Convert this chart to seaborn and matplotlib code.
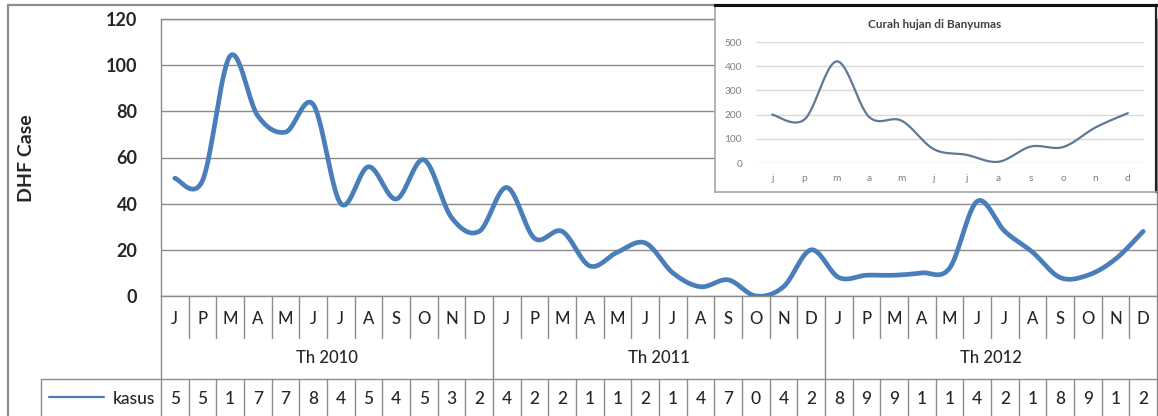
import numpy as np
import pandas as pd
import matplotlib
matplotlib.use("Agg")
import matplotlib.pyplot as plt
import matplotlib.transforms as mtransforms
from matplotlib.lines import Line2D
import seaborn as sns

# ---------------- data ----------------
months = ['J', 'P', 'M', 'A', 'M', 'J', 'J', 'A', 'S', 'O', 'N', 'D']
years = ['Th 2010', 'Th 2011', 'Th 2012']
kasus_2010 = [51, 50, 104, 78, 71, 83, 40, 56, 42, 59, 34, 28]
kasus_2011 = [47, 25, 28, 13, 19, 23, 10, 4, 7, 0, 4, 20]
kasus_2012 = [8, 9, 9, 10, 12, 41, 28, 19, 8, 9, 16, 28]
series_name = 'kasus'
y_label = 'DHF Case'
y_ticks = [0, 20, 40, 60, 80, 100, 120]

inset_title = 'Curah hujan di Banyumas'
inset_months = ['j', 'p', 'm', 'a', 'm', 'j', 'j', 'a', 's', 'o', 'n', 'd']
curah_hujan = [200, 180, 420, 190, 175, 57, 34, 5, 68, 66, 147, 206]
inset_ticks = [0, 100, 200, 300, 400, 500]

kasus = kasus_2010 + kasus_2011 + kasus_2012
df = pd.DataFrame({'idx': np.arange(len(kasus)), 'kasus': kasus})
df_rain = pd.DataFrame({'idx': np.arange(len(curah_hujan)), 'rain': curah_hujan})


def excel_smooth(x, y, n=30):
    """Catmull-Rom (Excel-like) bezier smoothing through the data points."""
    P = np.column_stack([np.asarray(x, float), np.asarray(y, float)])
    last = len(P) - 1
    out = []
    for i in range(last):
        p0 = P[max(i - 1, 0)]
        p1 = P[i]
        p2 = P[i + 1]
        p3 = P[min(i + 2, last)]
        c1 = p1 + (p2 - p0) / 6.0
        c2 = p2 - (p3 - p1) / 6.0
        t = np.linspace(0, 1, n, endpoint=(i == last - 1))[:, None]
        B = ((1 - t) ** 3) * p1 + 3 * ((1 - t) ** 2) * t * c1 + 3 * (1 - t) * t ** 2 * c2 + t ** 3 * p2
        out.append(B)
    B = np.vstack(out)
    return B[:, 0], B[:, 1]


# ---------------- figure ----------------
sns.set_style('white')
plt.rcParams['font.family'] = ['Lato', 'DejaVu Sans']

W, H = 1158, 416
fig = plt.figure(figsize=(W / 100, H / 100), dpi=100)
fig.patch.set_facecolor('white')


def FX(px):
    return px / W


def FY(py):
    return 1 - py / H


GRID = '#8c8c8c'
BLUE = '#4a7ebb'

# main axes: plot area from x=161..1157, y=19..296 px
ax = fig.add_axes([FX(161), FY(296), (1157 - 161) / W, (296 - 19) / H])
ax.set_zorder(1)
xs, ys = excel_smooth(df['idx'], df['kasus'])
sns.lineplot(x=xs, y=ys, sort=False, estimator=None, ax=ax, color=BLUE,
             linewidth=3.4, solid_capstyle='round')
ax.set_xlim(-0.5, len(kasus) - 0.5)
ax.set_ylim(0, 120)
ax.set_yticks(y_ticks)
ax.set_yticklabels([str(v) for v in y_ticks], fontsize=13, fontweight='bold')
ax.tick_params(axis='y', length=0, pad=17)
ax.set_xticks([])
ax.set_xlabel('')
ax.set_ylabel('')
ax.yaxis.grid(True, color=GRID, linewidth=1.0)
ax.xaxis.grid(False)
for s in ['left', 'right', 'bottom', 'top']:
    ax.spines[s].set_visible(True)
    ax.spines[s].set_color(GRID)
    ax.spines[s].set_linewidth(1.0)

fig.text(FX(27), FY(158), y_label, rotation=90, ha='center', va='center',
         fontsize=14, fontweight='bold')

# outer chart border
fig.add_artist(Line2D([FX(8), FX(8)], [FY(5), FY(420)], transform=fig.transFigure,
                      color=GRID, linewidth=1.6))
fig.add_artist(Line2D([FX(8), FX(1158)], [FY(5), FY(5)], transform=fig.transFigure,
                      color=GRID, linewidth=1.6))

# ---------------- data table below ----------------
tr = mtransforms.blended_transform_factory(ax.transData, fig.transFigure)
n = len(kasus)
TOP, MROW, YROW, BOT = 296, 338, 379, 420
for k in range(n + 1):
    xb = k - 0.5
    if k % 12 == 0:
        ax.plot([xb, xb], [FY(TOP), FY(BOT)], transform=tr, color=GRID,
                linewidth=1.0, clip_on=False)
    else:
        ax.plot([xb, xb], [FY(TOP), FY(MROW)], transform=tr, color=GRID,
                linewidth=1.0, clip_on=False)
        ax.plot([xb, xb], [FY(YROW), FY(BOT)], transform=tr, color=GRID,
                linewidth=1.0, clip_on=False)
# horizontal line above data row (from legend cell to right edge)
fig.add_artist(Line2D([FX(41), FX(1157)], [FY(YROW), FY(YROW)], transform=fig.transFigure,
                      color=GRID, linewidth=1.0))
fig.add_artist(Line2D([FX(41), FX(41)], [FY(YROW), FY(BOT)], transform=fig.transFigure,
                      color=GRID, linewidth=1.0))

for k in range(n):
    ax.text(k, FY(323.5), months[k % 12], transform=tr, ha='center', va='baseline',
            fontsize=12, fontweight='medium')
    ax.text(k, FY(404), str(kasus[k])[0], transform=tr, ha='center', va='baseline',
            fontsize=12.5, fontweight='medium')
for j, yl in enumerate(years):
    ax.text(j * 12 + 5.5, FY(363), yl, transform=tr, ha='center', va='baseline',
            fontsize=12, fontweight='medium')

# legend key in the table
fig.add_artist(Line2D([FX(49), FX(104)], [FY(397), FY(397)], transform=fig.transFigure,
                      color=BLUE, linewidth=1.6))
fig.text(FX(155), FY(404), series_name, ha='right', va='baseline', fontsize=12.5,
         fontweight='medium')

# ---------------- inset picture ----------------
box = fig.add_axes([FX(715), FY(192), (1156 - 715) / W, (192 - 5) / H])
box.set_zorder(2)
box.set_facecolor('white')
box.set_xticks([])
box.set_yticks([])
for s in ['left', 'bottom']:
    box.spines[s].set_color('#a6a6a6')
    box.spines[s].set_linewidth(1.2)
box.spines['top'].set_color('#111111')
box.spines['top'].set_linewidth(2.2)
box.spines['right'].set_color('#222222')
box.spines['right'].set_linewidth(1.6)

iax = fig.add_axes([FX(756), FY(163), (1144 - 756) / W, (163 - 42) / H])
iax.set_zorder(3)
iax.patch.set_alpha(0)
rx, ry = excel_smooth(df_rain['idx'], df_rain['rain'])
sns.lineplot(x=rx, y=ry, sort=False, estimator=None, ax=iax, color='#5f7896',
             linewidth=1.6)
iax.set_xlim(-0.5, len(curah_hujan) - 0.5)
iax.set_ylim(0, 500)
iax.set_yticks(inset_ticks)
iax.set_yticklabels([str(v) for v in inset_ticks], fontsize=7.3, color='#7f7f7f')
iax.set_xticks(range(len(inset_months)))
iax.set_xticklabels(inset_months, fontsize=7.3, color='#7f7f7f')
iax.tick_params(axis='both', length=0)
iax.tick_params(axis='y', pad=10)
iax.tick_params(axis='x', pad=8)
iax.set_xlabel('')
iax.set_ylabel('')
iax.yaxis.grid(True, color='#d9d9d9', linewidth=1.0)
iax.xaxis.grid(False)
for s in iax.spines.values():
    s.set_visible(False)
fig.text(FX(935), FY(25), inset_title, ha='center', va='center', fontsize=8.5,
         fontweight='bold', color='#404040', zorder=5)

fig.savefig('out.png', dpi=100, facecolor='white')
